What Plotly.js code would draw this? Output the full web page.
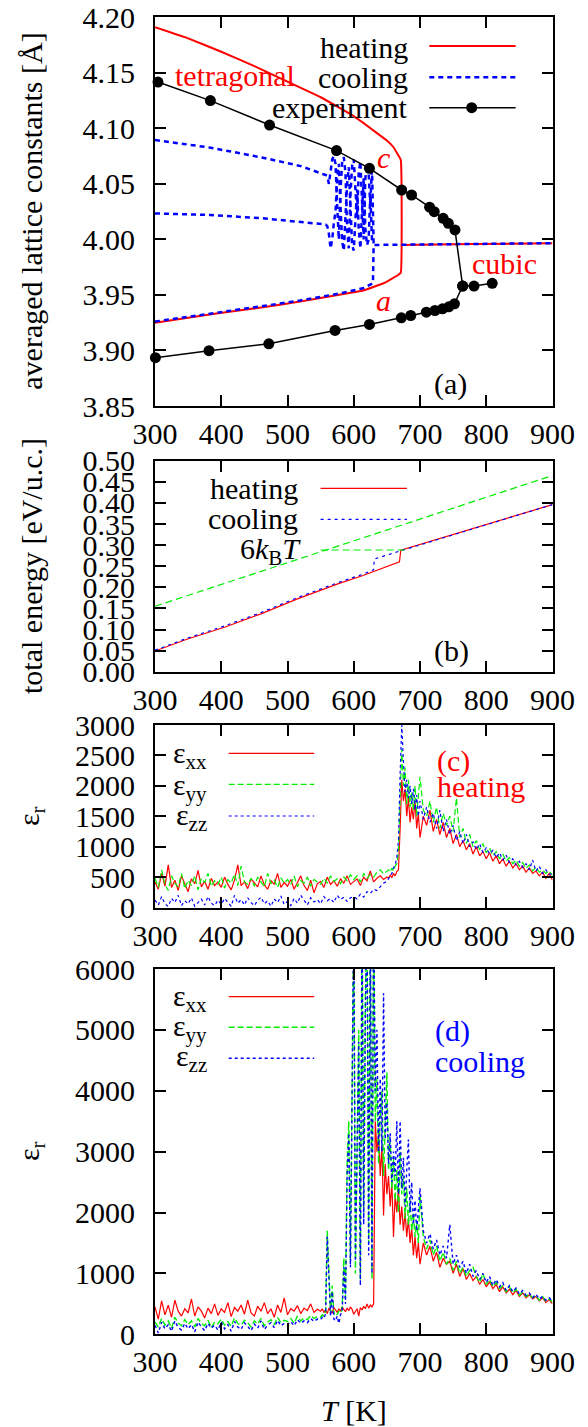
<!DOCTYPE html>
<html><head><meta charset="utf-8">
<script src="https://cdn.plot.ly/plotly-3.0.1.min.js"></script>
<style>html,body{margin:0;padding:0;background:#fff}</style>
</head><body><div id="chart" style="width:588px;height:1427px"></div>
<script>
// ---------------- DATA ----------------
// panel (a): lattice constants
const heatCT = [300, 350, 400, 450, 500, 550, 600, 630, 650, 660, 666, 671];
const heatC  = [4.191, 4.181, 4.169, 4.156, 4.142, 4.128, 4.111, 4.098, 4.089, 4.083, 4.077, 4.0715];
const heatAT = [300, 390, 463, 519, 576, 614, 645, 667, 671];
const heatA  = [3.925, 3.933, 3.939, 3.944, 3.950, 3.954, 3.9605, 3.968, 3.970];
const heatCubT = [671, 780, 900];
const heatCub  = [3.995, 3.9958, 3.9965];

const coolAT = [300, 390, 463, 519, 576, 614, 629, 630, 700, 800, 900];
const coolA  = [3.926, 3.9335, 3.940, 3.945, 3.951, 3.956, 3.9605, 3.995, 3.9955, 3.996, 3.9966];
const coolCT = [300, 384, 463, 520, 557.5, 560, 562.5, 565, 567.5, 570, 572.5, 575, 577.5, 580, 582.5, 585, 587.5, 590, 592.5, 595, 597.5, 600, 602.5, 605, 607.5, 610, 612.5, 615, 617.5, 620, 622.5, 625, 627.5, 630];
const coolC  = [4.0895, 4.0826, 4.0736, 4.066, 4.058, 4.057, 4.050, 4.062, 4.072, 4.075, 4.068, 4.030, 4.000, 4.045, 4.070, 4.074, 4.060, 4.010, 3.992, 4.040, 4.066, 4.072, 4.050, 4.020, 4.060, 4.070, 4.035, 4.000, 4.055, 4.068, 4.060, 4.030, 4.066, 3.996];
const coolB  = [4.0234, 4.022, 4.019, 4.016, 4.0135, 4.012, 4.005, 3.992, 4.000, 4.015, 4.025, 4.055, 4.068, 4.030, 3.998, 3.990, 4.020, 4.050, 4.065, 4.030, 3.995, 3.990, 4.020, 4.045, 4.010, 3.992, 4.025, 4.055, 4.010, 3.995, 4.000, 4.040, 4.000, 3.996];

const expCT = [304.5, 383.6, 472.9, 574, 623.7, 672.3, 687.3, 714.5, 721.5, 735, 742.8, 752.8];
const expC  = [4.1417, 4.125, 4.103, 4.080, 4.064, 4.0445, 4.040, 4.029, 4.025, 4.019, 4.0145, 4.0085];
const expCubT = [764.4, 781.5, 809];
const expCub  = [3.958, 3.958, 3.9605];
const expAT = [300.6, 381.5, 471.8, 571.8, 623.7, 671.8, 686, 709.6, 722.6, 734, 743.5, 752];
const expA  = [3.8935, 3.8998, 3.906, 3.918, 3.9234, 3.9294, 3.9315, 3.9345, 3.936, 3.9375, 3.9393, 3.942];

// panel (b): total energy
const eHeatT = [300, 348, 406, 460, 514, 576, 614, 650, 669, 671, 900];
const eHeat  = [0.049, 0.0768, 0.106, 0.137, 0.172, 0.208, 0.228, 0.249, 0.2605, 0.288, 0.396];
const eCoolT = [300, 348, 406, 460, 514, 576, 614, 630, 631, 674, 900];
const eCool  = [0.051, 0.079, 0.109, 0.140, 0.175, 0.211, 0.231, 0.2415, 0.267, 0.288, 0.396];
const kTT = [300, 900];
const kT  = [0.155, 0.465];

// panel (c): heating permittivity
const cT = [300,305,310,315,320,325,330,335,340,345,350,355,360,365,370,375,380,385,390,395,400,405,410,415,420,425,430,435,440,445,450,455,460,465,470,475,480,485,490,495,500,505,510,515,520,525,530,535,540,545,550,555,560,565,570,575,580,585,590,595,600,605,610,615,620,625,630,635,640,645,650,
  652.5,655,657.5,660,662.5,665,667.5,670,672.5,675,677.5,680,682.5,685,687.5,690,692.5,695,697.5,700,
  705,710,715,720,725,730,735,740,745,750,755,760,765,770,775,780,785,790,795,800,805,810,815,820,825,830,835,840,845,850,855,860,865,870,875,880,885,890,895,900];
const cXX = [420,300,560,350,700,330,450,280,520,380,
  260,470,390,610,340,430,300,480,360,420,
  330,500,380,290,450,700,360,420,310,470,
  400,340,520,370,300,440,380,560,330,410,
  350,460,300,420,520,360,280,450,240,390,
  430,330,500,380,440,350,470,400,520,380,
  420,470,360,500,440,600,420,480,520,460,
  500,
  480,530,490,560,520,590,620,1300,2100,1750,1950,1500,1800,1400,1650,1450,1750,1300,1550,1150,
  1500,1350,1600,1250,1450,1200,1400,1150,1300,1050,1200,1000,1100,950,1050,880,1000,850,920,800,
  900,760,850,720,800,680,760,650,720,620,680,580,650,560,600,520,580,480,560,450];
const cYY = [480,330,620,380,280,520,400,340,560,310,
  450,360,520,290,480,410,560,350,440,380,
  500,320,460,400,550,360,680,420,380,480,
  350,500,420,340,560,390,450,330,490,400,
  460,380,520,340,440,400,500,350,460,420,
  380,480,400,520,430,470,390,500,440,540,
  460,520,420,560,480,540,500,580,620,550,
  600,
  620,580,650,600,680,720,900,1800,2600,2000,2300,1700,2100,1650,1900,1600,2000,1500,1800,2150,
  1600,1500,1750,1400,1650,1300,1550,1350,1500,1250,1800,1150,1300,1050,1200,1000,1100,950,1050,900,
  980,850,920,800,880,760,820,720,780,680,740,640,700,600,660,580,620,560,600,530];
const cZZ = [120,40,180,60,20,150,80,200,30,110,
  60,160,20,90,140,40,180,70,30,120,
  50,150,90,20,200,70,130,40,160,80,
  30,120,170,60,110,20,140,80,190,50,
  100,30,150,70,200,120,40,160,90,130,
  60,180,110,150,80,200,130,170,100,160,
  180,140,220,170,260,230,300,280,350,400,
  430,
  480,520,560,650,700,820,1100,2200,3000,2400,1900,2100,1800,2000,1700,1950,1600,1850,1500,1750,
  1450,1650,1400,1550,1300,1600,1250,1450,1200,1350,1100,1250,1050,1200,1000,1080,950,1050,900,980,
  880,940,820,900,780,860,740,800,700,760,660,720,620,780,600,680,560,620,540,560];

// panel (d): cooling permittivity
const dT = [300,305,310,315,320,325,330,335,340,345,350,355,360,365,370,375,380,385,390,395,400,405,410,415,420,425,430,435,440,445,450,455,460,465,470,475,480,485,490,495,500,505,510,515,520,525,530,535,540,545,550,
  552.5,555,557.5,560,562.5,565,567.5,570,572.5,575,577.5,580,582.5,585,587.5,590,592.5,595,597.5,600,
  602.5,605,607.5,610,612.5,615,617.5,620,622.5,625,627.5,630,632.5,635,637.5,640,642.5,645,647.5,650,
  652.5,655,657.5,660,662.5,665,667.5,670,672.5,675,677.5,680,682.5,685,687.5,690,692.5,695,697.5,700,
  705,710,715,720,725,730,735,740,745,750,755,760,765,770,775,780,785,790,795,800,805,810,815,820,825,830,835,840,845,850,855,860,865,870,875,880,885,890,895,900];
const dXX = [450,250,550,320,480,280,560,380,300,420,
  350,580,300,450,380,270,430,340,500,310,
  420,360,520,290,440,380,480,330,560,350,
  300,460,380,520,340,420,280,480,360,600,
  320,420,380,470,340,430,390,500,360,410,
  380,
  420,360,400,340,430,380,350,440,400,360,420,380,450,400,370,430,390,450,410,330,
  380,420,300,440,400,460,420,500,430,480,450,500,3500,3000,3300,2600,3100,1950,2800,2300,
  2600,2100,2500,1600,2300,2000,2400,1800,2100,1700,2000,1600,1900,1500,1750,1300,1600,1250,1500,1150,
  1500,1300,1450,1200,1350,1100,1250,1150,1200,1000,1150,950,1080,900,1000,880,950,820,900,780,
  860,750,820,700,780,680,740,650,720,620,680,600,650,580,620,550,600,520,570,500];
const dYY = [200,120,260,150,220,100,280,180,140,240,
  160,220,120,260,180,140,230,110,200,170,
  250,150,210,130,270,180,150,230,190,120,
  220,170,260,140,200,240,160,280,190,230,
  210,260,180,300,220,270,240,310,260,290,
  280,
  320,300,380,1700,900,350,800,330,360,320,380,350,400,1250,600,2800,3500,1200,4000,7000,
  1000,3000,5000,900,7000,2000,5500,7000,1500,7000,900,7000,3500,4200,2800,3600,4000,2600,3400,4300,
  2700,3200,2400,2900,2200,2700,2000,3000,2300,2600,1900,2400,1800,2200,1700,2000,1600,1850,1500,2300,
  1600,1400,1550,1300,1450,1200,1350,1150,1250,1050,1200,1000,1100,950,1050,1100,950,850,1000,820,
  900,780,850,750,800,700,780,680,740,640,700,620,660,600,640,560,620,540,580,530];
const dZZ = [150,20,200,90,160,50,220,110,70,180,
  90,160,40,200,120,60,180,100,150,70,
  200,90,160,50,210,120,80,190,130,60,
  170,100,220,80,150,190,110,230,140,180,
  160,210,140,240,180,220,190,260,210,250,
  240,
  280,260,340,1600,1000,300,700,250,220,300,180,320,380,1100,500,2600,3300,1100,3900,7000,
  1200,3200,4800,800,7000,1800,5200,7000,1300,6800,1000,7000,4000,5000,3000,4200,3000,5600,3200,3800,
  2800,3300,2500,3000,2600,3500,2300,3500,2400,2900,2100,2700,3200,2000,2500,1800,2200,1700,2100,2400,
  1700,1500,1650,1400,1550,1300,1450,1250,1800,1150,1300,1100,1200,1000,1150,950,1050,900,1000,850,
  950,800,900,780,850,720,800,700,760,660,720,640,680,600,660,580,620,560,600,540];

// tick labels
const xTicks = [300, 400, 500, 600, 700, 800, 900];
const xTickText = ['300','400','500','600','700','800','900'];
const aTicks = [3.85, 3.90, 3.95, 4.00, 4.05, 4.10, 4.15, 4.20];
const aTickText = ['3.85','3.90','3.95','4.00','4.05','4.10','4.15','4.20'];
const bTicks = [0, 0.05, 0.10, 0.15, 0.20, 0.25, 0.30, 0.35, 0.40, 0.45, 0.50];
const bTickText = ['0.00','0.05','0.10','0.15','0.20','0.25','0.30','0.35','0.40','0.45','0.50'];
const cTicks = [0, 500, 1000, 1500, 2000, 2500, 3000];
const cTickText = ['0','500','1000','1500','2000','2500','3000'];
const dTicks = [0, 1000, 2000, 3000, 4000, 5000, 6000];
const dTickText = ['0','1000','2000','3000','4000','5000','6000'];

// ---------------- STYLE / LAYOUT ----------------
const W = 588, H = 1427;
const FONT = '"Liberation Serif", "Times New Roman", "DejaVu Serif", serif';
const RED = '#ff0000', BLUE = '#0000ff', GREEN = '#00ee00', BLACK = '#000000';
const px = v => v / W;
const py = v => 1 - v / H;
const XD = [px(155), px(552.5)];
const DOM = {
  a: [py(406), py(17.3)],
  b: [py(671.7), py(460.7)],
  c: [py(907.5), py(725)],
  d: [py(1334.3), py(969)]
};

const traces = [];
// (a)
traces.push({x: heatCT.concat(heatAT.slice().reverse(), [null], heatCubT),
             y: heatC.concat(heatA.slice().reverse(), [null], heatCub),
             xaxis:'x', yaxis:'y', mode:'lines', line:{color:RED, width:2, shape:'spline', smoothing:0.3}});
const coolStyle = {color:BLUE, width:2.5, dash:'5px,4px'};
traces.push({x: coolAT, y: coolA, xaxis:'x', yaxis:'y', mode:'lines', line:coolStyle});
traces.push({x: coolCT, y: coolC, xaxis:'x', yaxis:'y', mode:'lines', line:coolStyle});
traces.push({x: coolCT, y: coolB, xaxis:'x', yaxis:'y', mode:'lines', line:coolStyle});
traces.push({x: expCT.concat(expCubT, [null], expAT, [expCubT[0]]),
             y: expC.concat(expCub, [null], expA, [expCub[0]]),
             xaxis:'x', yaxis:'y', mode:'lines+markers', cliponaxis:false,
             line:{color:BLACK, width:1.5}, marker:{color:BLACK, size:11}});
// (b)
traces.push({x: eHeatT, y: eHeat, xaxis:'x2', yaxis:'y2', mode:'lines', line:{color:RED, width:1.2}});
traces.push({x: eCoolT, y: eCool, xaxis:'x2', yaxis:'y2', mode:'lines', line:{color:BLUE, width:1.2, dash:'3px,4px'}});
traces.push({x: kTT, y: kT, xaxis:'x2', yaxis:'y2', mode:'lines', line:{color:GREEN, width:1.2, dash:'7px,4px'}});
// (c)
traces.push({x: cT, y: cXX, xaxis:'x3', yaxis:'y3', mode:'lines', line:{color:RED, width:1.2}});
traces.push({x: cT, y: cYY, xaxis:'x3', yaxis:'y3', mode:'lines', line:{color:GREEN, width:1.2, dash:'6px,3px'}});
traces.push({x: cT, y: cZZ, xaxis:'x3', yaxis:'y3', mode:'lines', line:{color:BLUE, width:1.2, dash:'3px,3px'}});
// (d)
traces.push({x: dT, y: dXX, xaxis:'x4', yaxis:'y4', mode:'lines', line:{color:RED, width:1.2}});
traces.push({x: dT, y: dYY, xaxis:'x4', yaxis:'y4', mode:'lines', line:{color:GREEN, width:1.4, dash:'6px,3px'}});
traces.push({x: dT, y: dZZ, xaxis:'x4', yaxis:'y4', mode:'lines', line:{color:BLUE, width:1.4, dash:'3px,3px'}});

const axBase = {showline:true, linecolor:BLACK, linewidth:2, mirror:'allticks', ticks:'inside',
  ticklen:11, tickwidth:2, tickcolor:BLACK, showgrid:false, zeroline:false, fixedrange:true,
  tickfont:{family:FONT, size:30, color:BLACK}, tickmode:'array'};
function xax(anchor){ return Object.assign({}, axBase, {domain:XD, range:[300,900], tickvals:xTicks, ticktext:xTickText, anchor:anchor, ticklabelstandoff:0}); }
function yax(anchor, dom, rng, tv, tt){ return Object.assign({}, axBase, {domain:dom, range:rng, tickvals:tv, ticktext:tt, anchor:anchor, ticklabelstandoff:12}); }

const ann = [];
function txt(t, x, y, opts){ ann.push(Object.assign({text:t, x:px(x), y:py(y), xref:'paper', yref:'paper', showarrow:false, xanchor:'center', yanchor:'middle', font:{family:FONT, size:30, color:BLACK}}, opts||{})); }
const shapes = [];
function seg(x0, x1, y, line){ shapes.push({type:'line', xref:'paper', yref:'paper', x0:px(x0), x1:px(x1), y0:py(y), y1:py(y), line:line}); }

// axis titles
txt('averaged lattice constants [Å]', 32, 211.7, {textangle:-90});
txt('total energy [eV/u.c.]', 31, 566, {textangle:-90});
txt('ε<sub>r</sub>', 31, 816, {textangle:-90});
txt('ε<sub>r</sub>', 31, 1151, {textangle:-90});
txt('<i>T</i> [K]', 354, 1410);

// (a) legend + labels
txt('heating', 409.5, 47, {xanchor:'right'});
txt('cooling', 409.5, 78, {xanchor:'right'});
txt('experiment', 409.5, 108, {xanchor:'right'});
seg(429.3, 515.6, 46, {color:RED, width:2});
seg(429.3, 515.6, 77.3, {color:BLUE, width:2.5, dash:'5px,4px'});
seg(429.3, 515.6, 107.7, {color:BLACK, width:1.5});
shapes.push({type:'circle', xref:'paper', yref:'paper', x0:px(466.2), x1:px(477.2), y0:py(102.2), y1:py(113.2), fillcolor:BLACK, line:{color:BLACK, width:0}});
txt('tetragonal', 235.5, 75, {font:{family:FONT, size:30, color:RED}});
txt('<i>c</i>', 384, 158, {font:{family:FONT, size:30, color:RED}});
txt('<i>a</i>', 384, 300, {font:{family:FONT, size:30, color:RED}});
txt('cubic', 504, 263, {font:{family:FONT, size:30, color:RED}});
txt('(a)', 450, 384.5);

// (b) legend
txt('heating', 299.5, 488, {xanchor:'right'});
txt('cooling', 299.5, 519, {xanchor:'right'});
txt('6<i>k</i><sub>B</sub><i>T</i>', 303, 551, {xanchor:'right'});
seg(320.6, 406.9, 488.3, {color:RED, width:1.2});
seg(320.6, 406.9, 519.3, {color:BLUE, width:1.2, dash:'3px,4px'});
seg(320.6, 406.9, 550, {color:GREEN, width:1.2, dash:'7px,4px'});
txt('(b)', 451, 651);

// (c) legend
txt('ε<sub>xx</sub>', 209, 755, {xanchor:'right'});
txt('ε<sub>yy</sub>', 209, 786.5, {xanchor:'right'});
txt('ε<sub>zz</sub>', 209, 817, {xanchor:'right'});
seg(228.7, 314.2, 753.3, {color:RED, width:1.2});
seg(228.7, 314.2, 784.3, {color:GREEN, width:1.2, dash:'6px,3px'});
seg(228.7, 314.2, 816, {color:BLUE, width:1.2, dash:'3px,3px'});
txt('(c)', 435, 761, {xanchor:'left', font:{family:FONT, size:30, color:RED}});
txt('heating', 435, 786, {xanchor:'left', font:{family:FONT, size:30, color:RED}});

// (d) legend
txt('ε<sub>xx</sub>', 209, 997.5, {xanchor:'right'});
txt('ε<sub>yy</sub>', 209, 1027.5, {xanchor:'right'});
txt('ε<sub>zz</sub>', 209, 1057.5, {xanchor:'right'});
seg(228.7, 314.2, 996.7, {color:RED, width:1.2});
seg(228.7, 314.2, 1027.3, {color:GREEN, width:1.4, dash:'6px,3px'});
seg(228.7, 314.2, 1058.3, {color:BLUE, width:1.4, dash:'3px,3px'});
txt('(d)', 433, 1031, {xanchor:'left', font:{family:FONT, size:30, color:BLUE}});
txt('cooling', 433, 1061, {xanchor:'left', font:{family:FONT, size:30, color:BLUE}});

const layout = {
  width:W, height:H, margin:{l:0, r:0, t:0, b:0},
  paper_bgcolor:'#fff', plot_bgcolor:'#fff', showlegend:false, hovermode:false,
  font:{family:FONT, size:30, color:BLACK},
  xaxis: xax('y'), xaxis2: xax('y2'), xaxis3: xax('y3'), xaxis4: xax('y4'),
  yaxis: yax('x', DOM.a, [3.85, 4.20], aTicks, aTickText),
  yaxis2: yax('x2', DOM.b, [0, 0.5], bTicks, bTickText),
  yaxis3: yax('x3', DOM.c, [0, 3000], cTicks, cTickText),
  yaxis4: yax('x4', DOM.d, [0, 6000], dTicks, dTickText),
  annotations: ann, shapes: shapes
};
Plotly.newPlot('chart', traces, layout, {staticPlot:true, displayModeBar:false});
</script></body></html>
